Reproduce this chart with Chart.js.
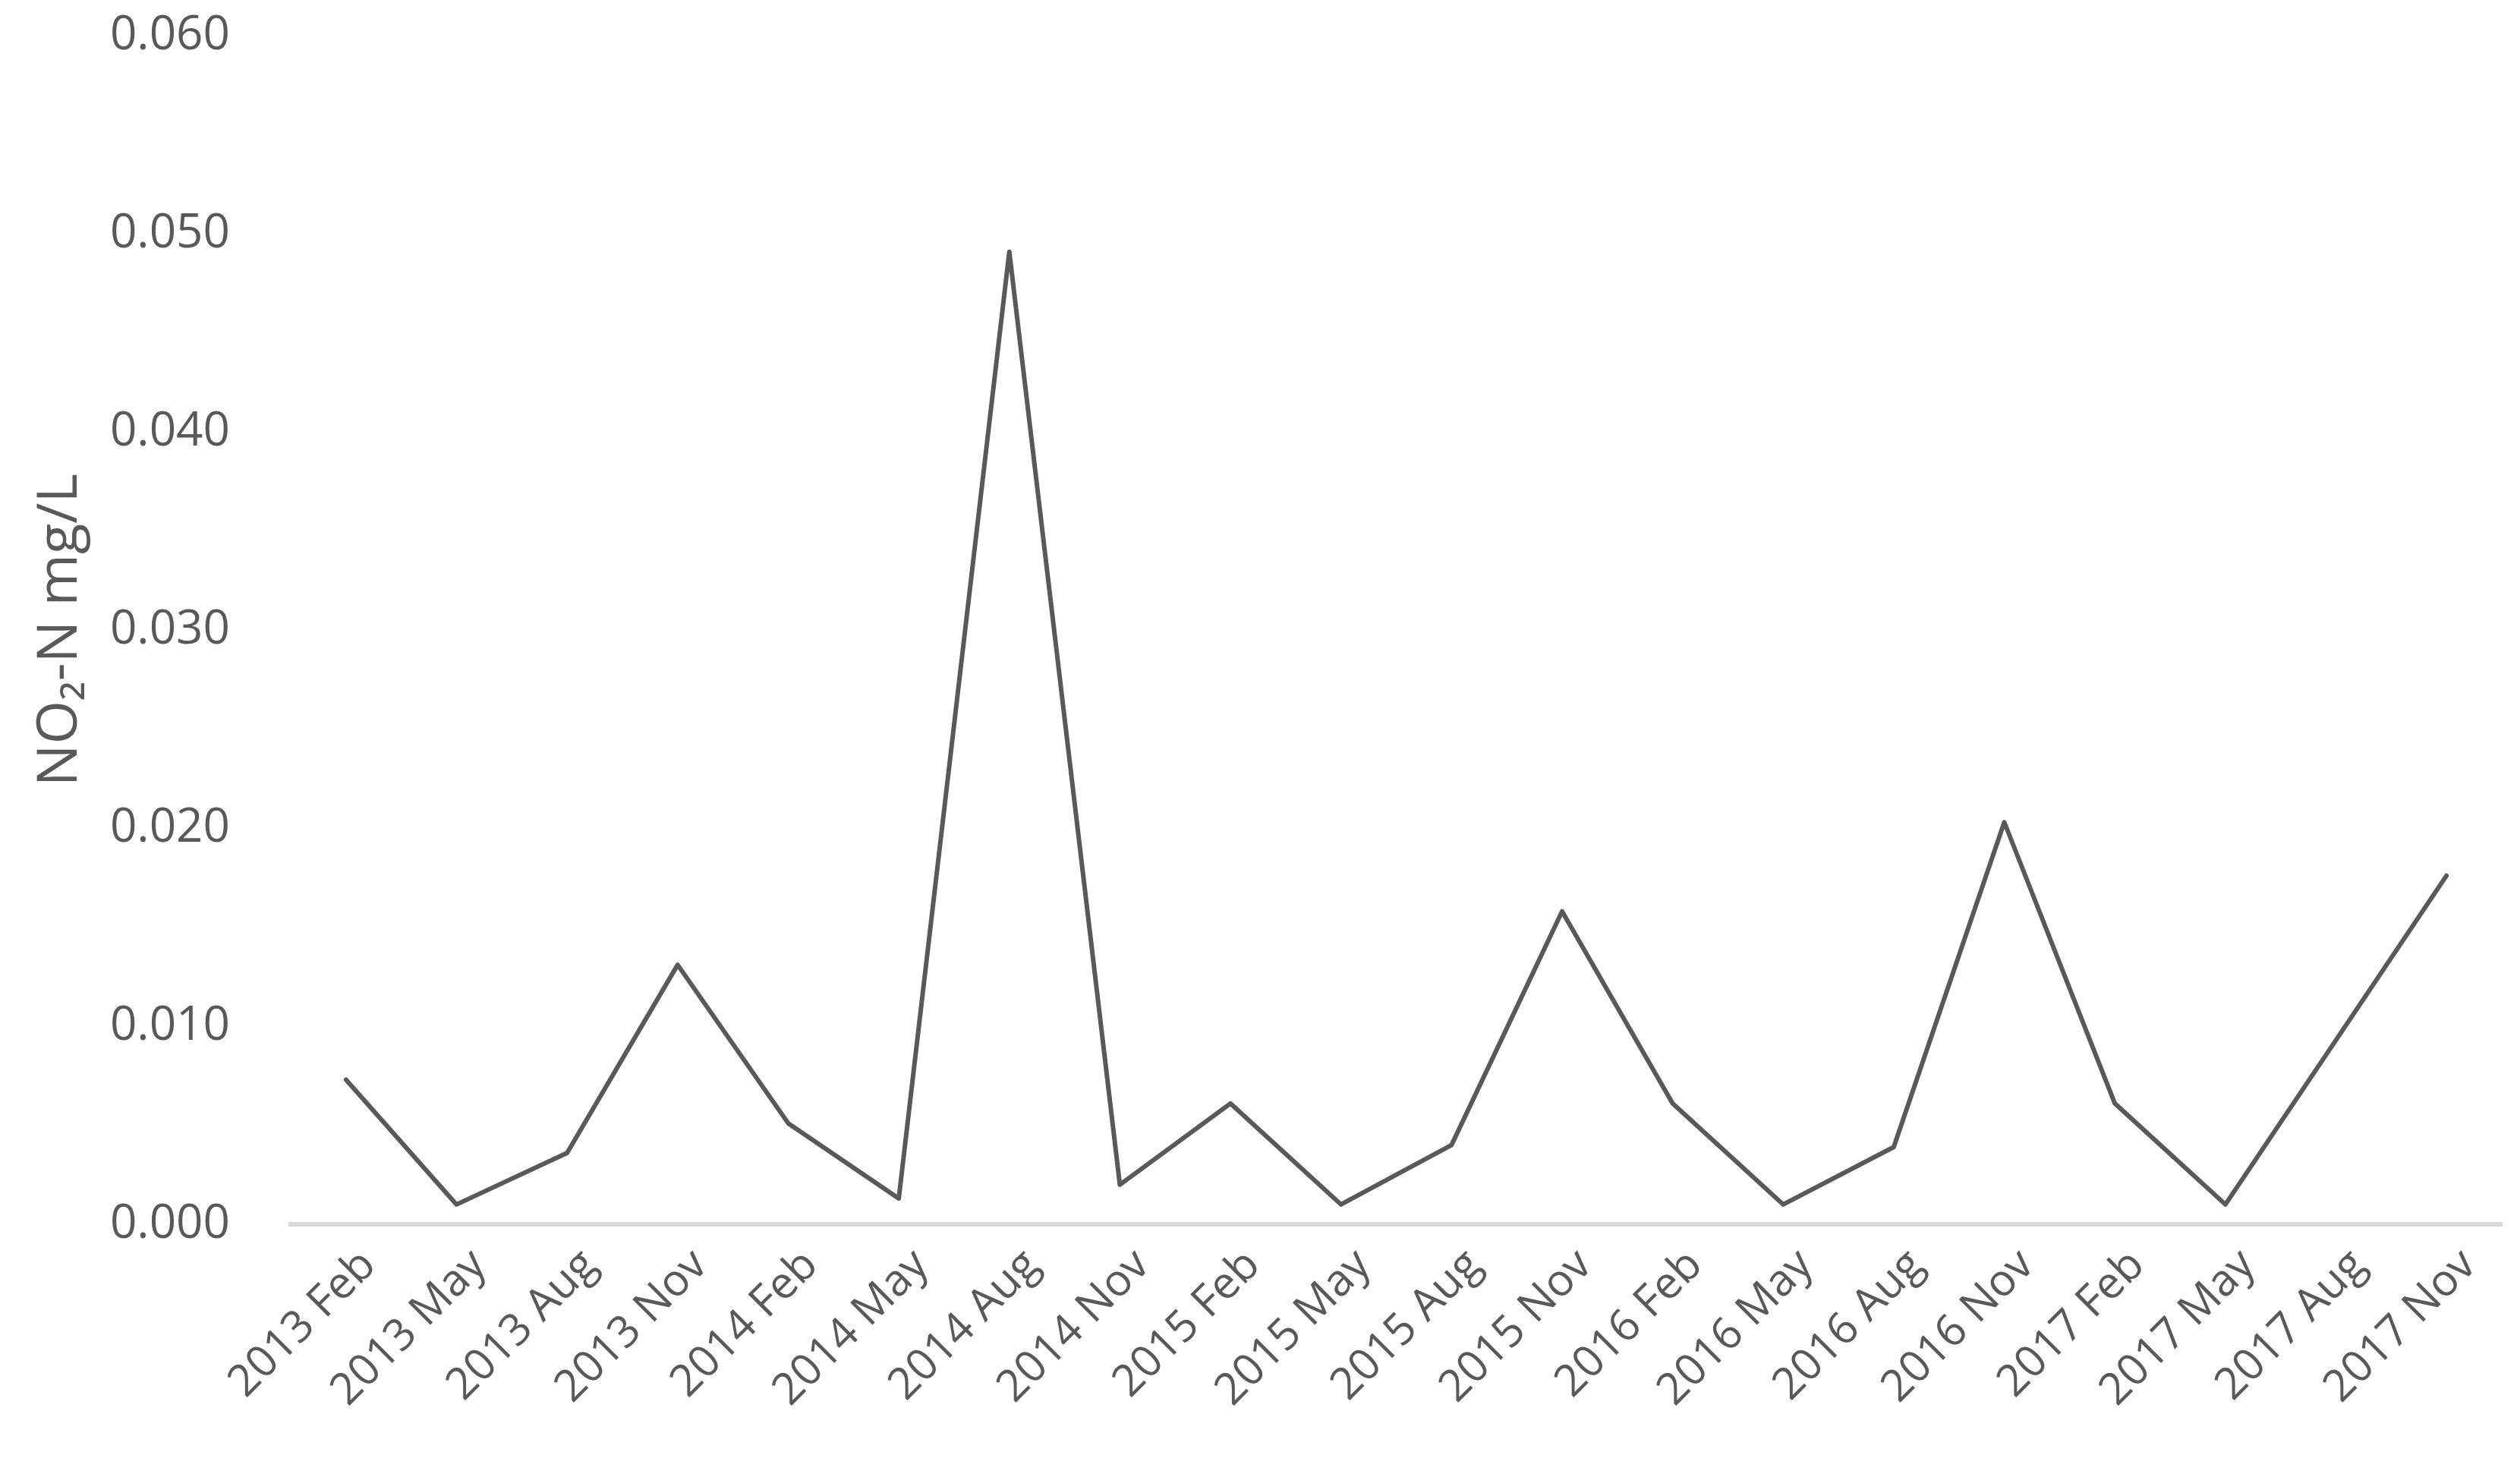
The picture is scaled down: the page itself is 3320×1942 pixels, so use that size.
<!DOCTYPE html>
<html>
<head>
<meta charset="utf-8">
<script src="https://cdn.jsdelivr.net/npm/chart.js@4.4.0/dist/chart.umd.min.js"></script>
<style>
  html, body { margin: 0; padding: 0; background: #ffffff; }
  #wrap { width: 3320px; height: 1942px; }
</style>
</head>
<body>
<div id="wrap"><canvas id="chart" width="3320" height="1942"></canvas></div>
<script>
// categorias (trimestres de muestreo)
const months = [
  "2013 Feb", "2013 May", "2013 Aug", "2013 Nov",
  "2014 Feb", "2014 May", "2014 Aug", "2014 Nov",
  "2015 Feb", "2015 May", "2015 Aug", "2015 Nov",
  "2016 Feb", "2016 May", "2016 Aug", "2016 Nov",
  "2017 Feb", "2017 May", "2017 Aug", "2017 Nov"
];
// NO2-N mg/L
const no2Values = [
  0.0073, 0.0010, 0.0036, 0.0131,
  0.0051, 0.0013, 0.0491, 0.0020,
  0.0061, 0.0010, 0.0040, 0.0158,
  0.0061, 0.0010, 0.0039, 0.0203,
  0.0061, 0.0010, 0.0093, 0.0176
];
const yMin = 0;
const yMax = 0.06;
const yStep = 0.01;
const yTitle = "NO\u2082-N mg/L";

const grey = "#595959";
const font = "'Open Sans', 'Noto Sans', sans-serif";

const ctx = document.getElementById("chart").getContext("2d");
new Chart(ctx, {
  type: "line",
  data: {
    labels: months,
    datasets: [{
      data: no2Values,
      borderColor: grey,
      borderWidth: 6,
      borderJoinStyle: "round",
      borderCapStyle: "round",
      pointRadius: 0,
      tension: 0,
      fill: false,
    }],
  },
  options: {
    responsive: false,
    animation: false,
    layout: { padding: { top: 0, right: 24, left: 0, bottom: 0 } },
    plugins: { legend: { display: false }, tooltip: { enabled: false } },
    scales: {
      x: {
        offset: true,
        grid: { display: false, drawTicks: false },
        border: { display: true, color: "#d9d9d9", width: 6 },
        ticks: {
          autoSkip: false,
          maxRotation: 45,
          minRotation: 45,
          padding: 20,
          labelOffset: 30,
          color: grey,
          font: { family: font, size: 58 },
        },
        afterFit: (s) => { s.height = 329; },
      },
      y: {
        min: yMin,
        max: yMax,
        // marcas invisibles: solo separan las etiquetas del eje
        grid: {
          display: true,
          drawOnChartArea: false,
          drawTicks: true,
          tickLength: 70,
          color: "rgba(0,0,0,0)",
        },
        border: { display: false },
        ticks: {
          stepSize: yStep,
          padding: 10,
          color: grey,
          font: { family: font, size: 62 },
          callback: (v) => v.toFixed(3),
        },
        title: {
          display: true,
          text: yTitle,
          color: grey,
          padding: { top: 36, bottom: 0 },
          font: { family: font, size: 74 },
        },
        afterFit: (s) => { s.width = 383; },
      },
    },
  },
});
</script>
</body>
</html>
